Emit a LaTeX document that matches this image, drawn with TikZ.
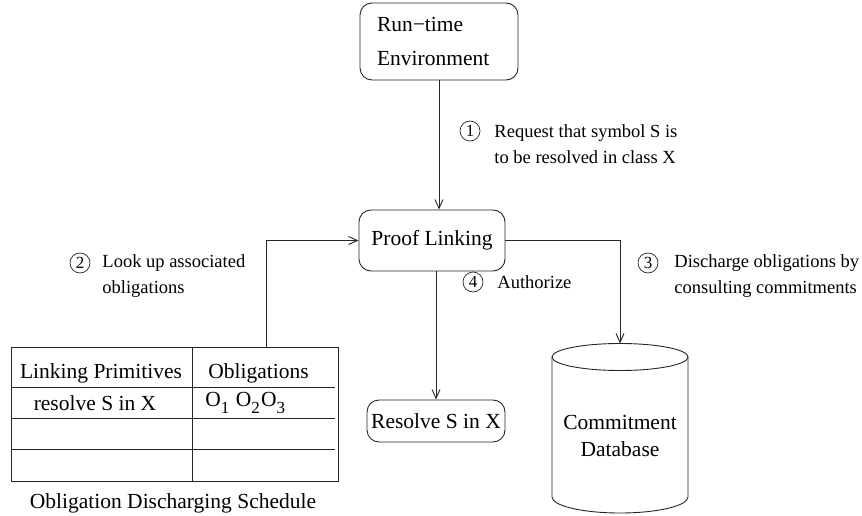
\documentclass[tikz,border=0pt]{standalone}
\usepackage{fontspec}
\setmainfont{Liberation Serif}
\usetikzlibrary{arrows.meta}
\begin{document}
\begin{tikzpicture}[x=1pt,y=-1pt,
  line width=0.9pt, draw=black!85,
  rbox/.style={draw, rounded corners=12pt, font=\fontsize{21.5}{30}\selectfont},
  lbl/.style={anchor=west, align=left, inner sep=0pt, font=\fontsize{18.5}{26.5}\selectfont},
  num/.style={draw, circle, minimum size=20pt, inner sep=0pt, line width=0.7pt, font=\fontsize{17}{17}\selectfont},
  ttxt/.style={inner sep=0pt, font=\fontsize{21.5}{26}\selectfont},
  arr/.style={-{Straight Barb[length=9pt,width=8pt]}}
]
\useasboundingbox (0,0) rectangle (862,516);

% Nodes
\node[rbox, minimum width=158pt, minimum height=77pt, inner xsep=17pt, text width=124pt, align=left,
      font=\fontsize{21.5}{34}\selectfont] (rt) at (439,41.5) {Run−time\\Environment};
\node[rbox, minimum width=146pt, minimum height=61pt] (pl) at (432,240.5) {Proof Linking};
\node[rbox, minimum width=138pt, minimum height=42pt] (res) at (436,421) {Resolve S in X};

% Cylinder
\draw (620,357) ellipse [x radius=68pt, y radius=13.5pt];
\draw (552,357) -- (552,497) .. controls (552,505.8) and (582.5,513) .. (620,513)
      .. controls (657.5,513) and (688,505.8) .. (688,497) -- (688,357);
\coordinate (dbtop) at (620,343.5);
\node[ttxt, align=center, font=\fontsize{21.5}{27}\selectfont] (db) at (620,436) {Commitment\\Database};

% Table
\draw (11,347) rectangle (338,481);
\draw (11,387) -- (335,387);
\draw (11,418) -- (335,418);
\draw (11,449) -- (335,449);
\draw (192,347) -- (192,482);
\node[ttxt] (th1) at (101,373) {Linking Primitives};
\node[ttxt, anchor=west] (th2) at (208,373) {Obligations};
\node[ttxt] (tr1) at (95,403) {resolve S in X};
\node[ttxt, anchor=west] (tr2) at (205,403) {O\raisebox{-0.35em}{\fontsize{17}{17}\selectfont 1}\hspace{0.3em}O\raisebox{-0.35em}{\fontsize{17}{17}\selectfont 2}\hspace{0.05em}O\raisebox{-0.35em}{\fontsize{17}{17}\selectfont 3}};
\node[ttxt] (cap) at (173,503) {Obligation Discharging Schedule};
\coordinate (tc) at (266,347);

% Connectors
\draw[arr] (rt.south) -- (rt.south |- pl.north);
\draw[arr] (tc) |- (pl.west);
\draw[arr] (pl.east) -| (dbtop);
\draw[arr] (res.north |- pl.south) -- (res.north);

% Labels
\node[num] (n1) at (470,131) {1};
\node[lbl] (l1) at (494,144) {Request that symbol S is\\to be resolved in class X};
\node[num] (n2) at (80,263) {2};
\node[lbl] (l2) at (102,276) {Look up associated\\obligations};
\node[num] (n3) at (648,263) {3};
\node[lbl] (l3) at (674,276) {Discharge obligations by\\consulting commitments};
\node[num] (n4) at (473,282) {4};
\node[lbl] (l4) at (497,282) {Authorize};
\end{tikzpicture}
\end{document}
